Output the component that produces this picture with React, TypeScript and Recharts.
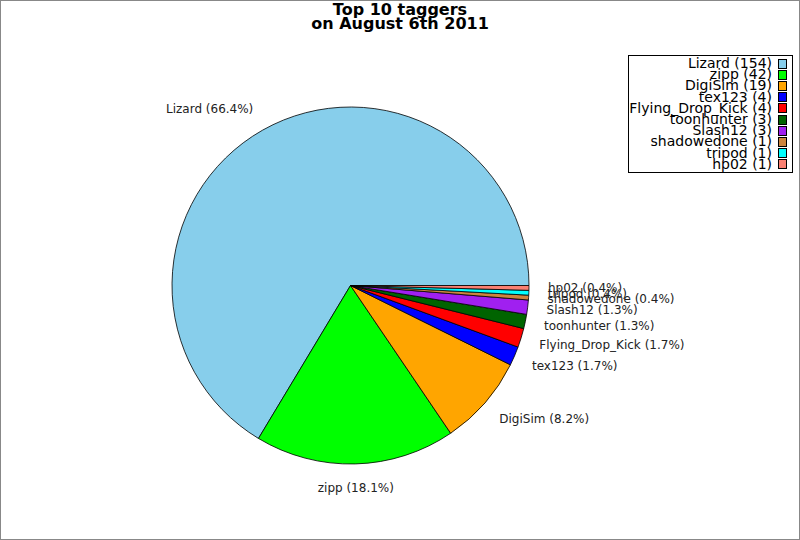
import React from "react";
import { PieChart, Pie, Cell, Legend } from "recharts";

const names = ["Lizard", "zipp", "DigiSim", "tex123", "Flying_Drop_Kick", "toonhunter", "Slash12", "shadowedone", "tripod", "hp02"];
const counts = [154, 42, 19, 4, 4, 3, 3, 1, 1, 1];
const colors = ["#87CEEB", "#00FF00", "#FFA500", "#0000FF", "#FF0000", "#006400", "#A020F0", "#CD853F", "#00FFFF", "#FA8072"];
const titleLines = ["Top 10 taggers", "on August 6th 2011"];

const total = counts.reduce((a, b) => a + b, 0);
const data = names.map((n, i) => ({ name: n, value: counts[i] }));

const FONT = "'DejaVu Sans', sans-serif";
const RAD = Math.PI / 180;

const renderLabel = (props: any) => {
  const { cx, cy, midAngle, outerRadius, name, value } = props;
  const rx = outerRadius + 19;
  const ry = outerRadius + 24;
  const c = Math.cos(midAngle * RAD);
  const s = Math.sin(midAngle * RAD);
  const x = cx + rx * c;
  const y = cy - ry * s;
  const anchor = c > 0.15 ? "start" : c < -0.15 ? "end" : "middle";
  const pct = ((value / total) * 100).toFixed(1);
  return (
    <text x={x} y={y} textAnchor={anchor} dominantBaseline="central" fontFamily={FONT} fontSize={12} fill="#222">
      {`${name} (${pct}%)`}
    </text>
  );
};

const LegendBox = () => (
  <div
    style={{
      border: "1px solid #000",
      background: "#fff",
      width: 165,
      height: 118,
      boxSizing: "border-box",
      position: "relative",
      fontFamily: FONT,
      fontSize: 14,
      color: "#000",
    }}
  >
    {names.map((n, i) => (
      <div key={n} style={{ position: "absolute", right: 0, top: 2 + i * 11.2, height: 11, display: "flex", alignItems: "center", lineHeight: "11px" }}>
        <span style={{ whiteSpace: "nowrap" }}>{`${n} (${counts[i]})`}</span>
        <span
          style={{
            display: "inline-block",
            width: 7,
            height: 8,
            marginLeft: 6,
            marginRight: 5,
            background: colors[i],
            border: "1px solid #000",
          }}
        />
      </div>
    ))}
  </div>
);

export default function App() {
  return (
    <div style={{ position: "relative", width: 800, height: 540, background: "#fff" }}>
      <style>{`body{margin:0}`}</style>
      <div
        style={{
          position: "absolute",
          left: 0,
          top: 0,
          width: 800,
          height: 540,
          border: "1px solid #888",
          boxSizing: "border-box",
          pointerEvents: "none",
          zIndex: 3,
        }}
      />
      <div
        style={{
          position: "absolute",
          left: 0,
          top: 3,
          width: 800,
          textAlign: "center",
          fontFamily: FONT,
          fontWeight: "bold",
          fontSize: 16,
          lineHeight: "14px",
          color: "#000",
          zIndex: 2,
        }}
      >
        {titleLines.map((t) => (
          <div key={t}>{t}</div>
        ))}
      </div>
      <PieChart width={800} height={540} margin={{ top: 0, right: 0, bottom: 0, left: 0 }}>
        <Pie
          data={data}
          dataKey="value"
          nameKey="name"
          cx={350.5}
          cy={285.5}
          outerRadius={178.5}
          startAngle={0}
          endAngle={360}
          stroke="#000"
          strokeWidth={0.8}
          label={renderLabel}
          labelLine={false}
          isAnimationActive={false}
        >
          {data.map((d, i) => (
            <Cell key={d.name} fill={colors[i]} />
          ))}
        </Pie>
        <Legend
          content={() => <LegendBox />}
          wrapperStyle={{ position: "absolute", left: 628, top: 55, width: 165, height: 118 }}
        />
      </PieChart>
    </div>
  );
}
